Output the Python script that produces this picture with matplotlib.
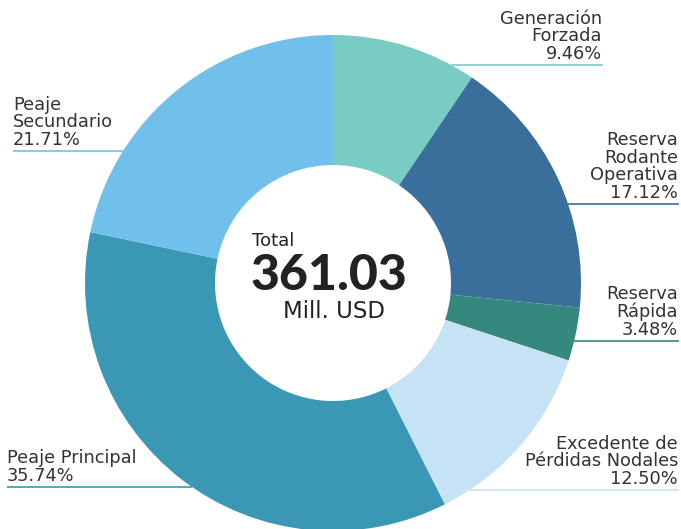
import numpy as np
import matplotlib.pyplot as plt

labels = ["Generación\nForzada", "Reserva\nRodante\nOperativa", "Reserva\nRápida",
          "Excedente de\nPérdidas Nodales", "Peaje Principal", "Peaje\nSecundario"]
shares = [9.46, 17.12, 3.48, 12.50, 35.74, 21.71]
colors = ["#78CCC4", "#3A6E9B", "#35887D", "#C6E3F6", "#3B98B5", "#70C0EB"]
total = 361.03

# label layout in pixel coords (x of text anchor, y of underline, side)
label_pos = [(602, 65, "right", 603), (678, 204, "right", 679), (678, 341, "right", 679),
             (678, 490, "right", 679), (7, 487, "left", 7), (13, 151, "left", 13)]

W, H = 681, 529
cx, cy, R, r_in = 333, 283, 248, 118

def main():
    fig = plt.figure(figsize=(W / 100, H / 100), dpi=100)
    ax = fig.add_axes([0, 0, 1, 1])

    ax.pie(shares, colors=colors, startangle=90, counterclock=False,
           radius=R, center=(cx, H - cy), frame=True,
           wedgeprops=dict(width=R - r_in, linewidth=0))
    ax.set_xlim(0, W)
    ax.set_ylim(0, H)
    ax.set_aspect("equal")
    ax.axis("off")

    font = "DejaVu Sans"
    for lab, s, c, (tx, ly, side, lend) in zip(labels, shares, colors, label_pos):
        dy = ly - cy
        dx = np.sqrt(max(R ** 2 - dy ** 2, 0))
        if side == "right":
            x0, x1 = cx + dx, lend
        else:
            x0, x1 = lend, cx - dx
        ax.plot([x0, x1], [H - ly, H - ly], color=c, lw=1.2, solid_capstyle="butt")
        ax.text(tx, H - ly + 2, f"{lab}\n{s:.2f}%", ha=side, va="bottom",
                fontsize=12.8, color="#333333", family=font, linespacing=0.98)

    ax.text(252, H - 241, "Total", ha="left", va="center", fontsize=13,
            color="#222222", family=font)
    ax.text(329, H - 276, f"{total:.2f}", ha="center", va="center", fontsize=36,
            fontweight="black", color="#222222", family="Lato")
    ax.text(334, H - 311, "Mill. USD", ha="center", va="center", fontsize=16.5,
            color="#222222", family=font)

    fig.savefig("out.png", dpi=100)

if __name__ == "__main__":
    main()
